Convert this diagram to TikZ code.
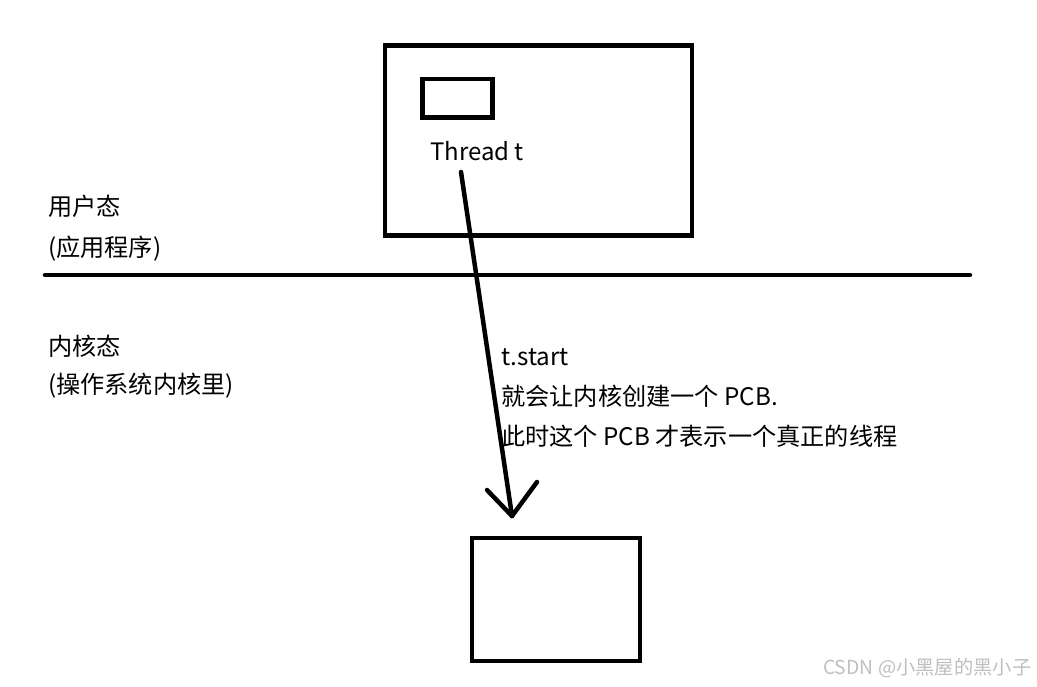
\documentclass[tikz,border=0pt]{standalone}
\usepackage{fontspec}
\newfontfamily\cjk{Noto Sans CJK SC}
\begin{document}
\begin{tikzpicture}[x=1pt,y=-1pt,
  box/.style={draw=black,line width=4.5pt,inner sep=0pt},
  lbl/.style={font=\cjk\fontsize{24.2}{24.2}\selectfont,inner sep=0pt,anchor=base west,text=black},
  wm/.style={font=\cjk\fontsize{19.3}{19.3}\selectfont,inner sep=0pt,anchor=base west,text=black!25},
  stroke/.style={line width=4.5pt,line cap=round}]
\useasboundingbox (0,0) rectangle (1037,686);
\fill[white] (0,0) rectangle (1037,686);
% user-space box
\draw[box] (385,45.5) rectangle (692,235.5);
\node[box,minimum width=70pt,minimum height=38.5pt] (obj) at (457.5,98.25) {};
\node[lbl,font=\cjk\fontsize{24}{24}\selectfont] (thread) at (430,160) {Thread t};
% separator
\coordinate (sepL) at (45,275);
\coordinate (sepR) at (970,275);
\draw[stroke] (sepL) -- (sepR);
% left labels
\node[lbl] (user) at (48,215) {用户态};
\node[lbl] (userapp) at (48,256) {(应用程序)};
\node[lbl] (kernel) at (48,355) {内核态};
\node[lbl] (kernelos) at (48,393) {(操作系统内核里)};
% annotation
\node[lbl] (start) at (501,365) {t.start};
\node[lbl] (l2) at (501,405) {就会让内核创建一个 PCB.};
\node[lbl] (l3) at (501,445) {此时这个 PCB 才表示一个真正的线程};
% kernel box (PCB)
\node[box,minimum width=168pt,minimum height=123pt] (pcb) at (556,599.5) {};
% arrow
\coordinate (from) at (461,172);
\coordinate (tip) at (512,516);
\draw[stroke] (from) -- (tip);
\draw[stroke] (tip) -- (487,490);
\draw[stroke] (tip) -- (537,482);
% watermark
\node[wm] (mark) at (823,674) {CSDN @小黑屋的黑小子};
\end{tikzpicture}
\end{document}
